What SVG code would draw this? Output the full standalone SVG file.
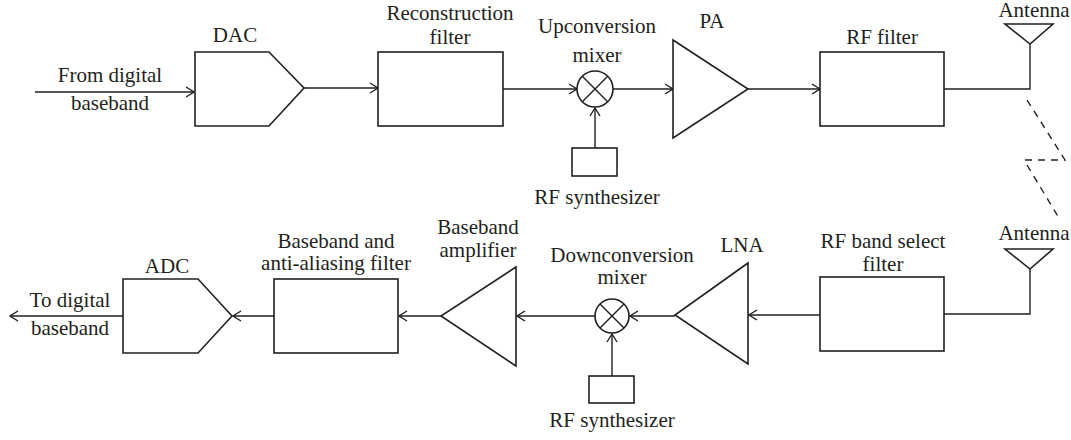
<svg xmlns="http://www.w3.org/2000/svg" width="1071" height="440" viewBox="0 0 1071 440">
<defs>
<marker id="arr" markerWidth="10" markerHeight="12" refX="9" refY="6" orient="auto" markerUnits="userSpaceOnUse">
<path d="M1,1 L9,6 L1,11" fill="none" stroke="#231f20" stroke-width="1.4"/>
</marker>
</defs>
<style>
.s{fill:none;stroke:#231f20;stroke-width:1.6}
.w{fill:#fff;stroke:#231f20;stroke-width:1.6}
.c{fill:none;stroke:#231f20;stroke-width:1.4}
.a{fill:none;stroke:#231f20;stroke-width:1.4;marker-end:url(#arr)}
.d{fill:none;stroke:#231f20;stroke-width:1.4;stroke-dasharray:7,6}
text{font-size:21px;fill:#231f20;text-anchor:middle}
</style>
<rect width="1071" height="440" fill="#fff"/>
<g id="connectors">
<line class="a" x1="35" y1="92" x2="194" y2="92"/>
<line class="a" x1="304" y1="88" x2="378" y2="88"/>
<line class="a" x1="503" y1="89" x2="577" y2="89"/>
<line class="a" x1="595" y1="148" x2="595" y2="108"/>
<line class="a" x1="613" y1="89" x2="673" y2="89"/>
<line class="a" x1="748" y1="89" x2="820" y2="89"/>
<polyline class="c" points="944,89 1030,89 1030,44"/>
<polyline class="d" points="1027,100 1065,160 1023,160"/>
<line class="d" x1="1027" y1="165" x2="1059" y2="218"/>
<polyline class="c" points="1030,269 1030,314 944,314"/>
<line class="a" x1="820" y1="315" x2="749" y2="315"/>
<line class="a" x1="675" y1="316" x2="630" y2="316"/>
<line class="a" x1="612" y1="376" x2="612" y2="334"/>
<line class="a" x1="595" y1="316" x2="517" y2="316"/>
<line class="a" x1="441" y1="316" x2="399" y2="316"/>
<line class="a" x1="274" y1="316" x2="233" y2="316"/>
<line class="a" x1="123" y1="316" x2="10" y2="316"/>
</g>
<g font-family="Liberation Serif, Times New Roman, serif">
<g id="input-label">
<text x="110" y="82">From digital</text>
<text x="110" y="110">baseband</text>
</g>
<g id="dac">
<polygon class="w" points="195,52 269,52 304,88 269,126 195,126"/>
<text x="235" y="42">DAC</text>
</g>
<g id="reconstruction-filter">
<rect class="w" x="378" y="52" width="125" height="74"/>
<text x="450" y="20">Reconstruction</text>
<text x="450" y="44">filter</text>
</g>
<g id="upconversion-mixer">
<circle class="w" cx="595" cy="89" r="18"/>
<line class="c" x1="582.3" y1="76.3" x2="607.7" y2="101.7"/>
<line class="c" x1="607.7" y1="76.3" x2="582.3" y2="101.7"/>
<text x="597" y="33">Upconversion</text>
<text x="597" y="62">mixer</text>
</g>
<g id="rf-synth-top">
<rect class="w" x="572" y="148" width="45" height="28"/>
<text x="597" y="204">RF synthesizer</text>
</g>
<g id="pa">
<polygon class="w" points="673,40 748,89 673,138"/>
<text x="712" y="28">PA</text>
</g>
<g id="rf-filter">
<rect class="w" x="820" y="52" width="124" height="74"/>
<text x="882" y="44">RF filter</text>
</g>
<g id="antenna-top">
<polygon class="w" points="1005,24 1053,24 1030,44"/>
<text x="1034" y="17">Antenna</text>
</g>
<g id="antenna-bottom">
<polygon class="w" points="1005,249 1053,249 1030,269"/>
<text x="1034" y="240">Antenna</text>
</g>
<g id="rf-band-select-filter">
<rect class="w" x="820" y="277" width="124" height="74"/>
<text x="883" y="248">RF band select</text>
<text x="883" y="271">filter</text>
</g>
<g id="lna">
<polygon class="w" points="748,263 675,315 748,364"/>
<text x="742" y="252">LNA</text>
</g>
<g id="downconversion-mixer">
<circle class="w" cx="612" cy="316" r="17"/>
<line class="c" x1="600" y1="304" x2="624" y2="328"/>
<line class="c" x1="624" y1="304" x2="600" y2="328"/>
<text x="622" y="262">Downconversion</text>
<text x="622" y="284">mixer</text>
</g>
<g id="rf-synth-bottom">
<rect class="w" x="589" y="376" width="45" height="27"/>
<text x="612" y="427">RF synthesizer</text>
</g>
<g id="baseband-amplifier">
<polygon class="w" points="516,267 441,316 516,366"/>
<text x="478" y="234">Baseband</text>
<text x="478" y="257">amplifier</text>
</g>
<g id="baseband-filter">
<rect class="w" x="274" y="279" width="124" height="74"/>
<text x="336" y="248">Baseband and</text>
<text x="336" y="270">anti-aliasing filter</text>
</g>
<g id="adc">
<polygon class="w" points="123,279 198,279 232,316 198,353 123,353"/>
<text x="167" y="273">ADC</text>
</g>
<g id="output-label">
<text x="70" y="307">To digital</text>
<text x="70" y="335">baseband</text>
</g>
</g>
</svg>
